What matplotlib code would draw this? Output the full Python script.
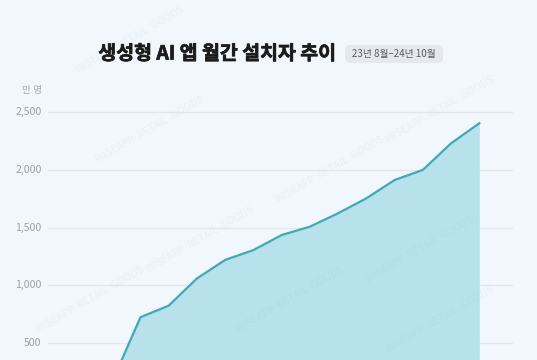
import matplotlib.pyplot as plt
import matplotlib.patheffects as pe
from matplotlib.patches import FancyBboxPatch

plt.rcParams['font.family'] = ['Noto Sans CJK KR', 'DejaVu Sans']

# 23년 8월 ~ 24년 10월, 단위: 만 명
months = ['23.08', '23.09', '23.10', '23.11', '23.12', '24.01', '24.02', '24.03',
          '24.04', '24.05', '24.06', '24.07', '24.08', '24.09', '24.10']
installs = [40, 170, 725, 825, 1060, 1220, 1305, 1435, 1507, 1623, 1752, 1910, 1997, 2227, 2400]
yticks = [500, 1000, 1500, 2000, 2500]

bg = '#f1f7fc'
line_c = '#3fa9b8'
fill_c = '#b7e1eb'

W, H = 537, 360
fig = plt.figure(figsize=(W / 100, H / 100), dpi=100, facecolor=bg)

# 축 위치 (픽셀 기준으로 맞춤)
x0_px, step_px = 84.0, 28.236
left_px, right_px = 48, 513
y0_px, unit_px = 401.2, 57.9 / 500
ytop = 2600
xlim = ((left_px - x0_px) / step_px, (right_px - x0_px) / step_px)
top_px = y0_px - ytop * unit_px
ax = fig.add_axes([left_px / W, (H - y0_px) / H, (right_px - left_px) / W, (y0_px - top_px) / H])
ax.set_facecolor(bg)

xs = list(range(len(months)))
ax.fill_between(xs, installs, 0, color=fill_c, lw=0, zorder=2)
ax.plot(xs, installs, color=line_c, lw=1.6, zorder=3, solid_joinstyle='round')

ax.set_xlim(*xlim)
ax.set_ylim(0, ytop)
label_x = (41.5 - x0_px) / step_px
for v in yticks:
    ax.axhline(v, color='#e1e7ec', lw=0.9, zorder=1)
    ax.text(label_x, v, f'{v:,}', ha='right', va='center', clip_on=False,
            fontsize=7.6, color='#9aa1a9')
ax.set_xticks([])
ax.set_yticks([])
for s in ax.spines.values():
    s.set_visible(False)

# 워터마크 (아주 옅게)
marks = [(90, 300), (200, 240), (330, 170), (440, 110), (150, 130), (290, 300),
         (420, 250), (130, 40), (440, 320)]
for mx, my in marks:
    fig.text(mx / W, 1 - my / H, 'WISEAPP  RETAIL  GOODS', rotation=30, fontsize=7.5,
             color='#7f97a8', alpha=0.07, zorder=5, ha='center', va='center')

# 단위
fig.text(42 / W, 1 - 90 / H, '만 명', ha='right', va='center', fontsize=7, color='#a3a9b0')

# 제목
fig.text(217 / W, 1 - 54 / H, '생성형 AI 앱 월간 설치자 추이', ha='center', va='center',
         fontsize=14, fontweight='black', color='#1c1c1c',
         path_effects=[pe.withStroke(linewidth=0.5, foreground='#1c1c1c')])

badge = FancyBboxPatch((345 / W, 1 - 63 / H), 98 / W, 18 / H,
                       boxstyle='round,pad=0,rounding_size=0.012',
                       transform=fig.transFigure, facecolor='#e5e9ed', edgecolor='none')
fig.patches.append(badge)
fig.text(394 / W, 1 - 54 / H, '23년 8월–24년 10월', ha='center', va='center',
         fontsize=7, color='#555b62')

fig.savefig('out.png', dpi=100, facecolor=bg)
